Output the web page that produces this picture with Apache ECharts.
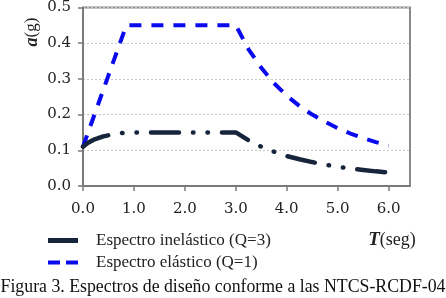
<!DOCTYPE html>
<html><head><meta charset="utf-8">
<script src="https://cdn.jsdelivr.net/npm/echarts@6/dist/echarts.min.js"></script>
<style>html,body{margin:0;padding:0;background:#fff}#c{width:446px;height:298px}</style>
</head><body><div id="c"></div>
<script>
// Data
var periodsElastic = [0, 0.85, 3.0, 3.25, 3.5, 3.75, 4.0, 4.25, 4.5, 4.75, 5.0, 5.25, 5.5, 5.75, 6.0];
var valuesElastic  = [0.11, 0.45, 0.45, 0.383, 0.331, 0.288, 0.253, 0.224, 0.200, 0.180, 0.162, 0.147, 0.134, 0.123, 0.113];
var periodsInelastic = [0, 0.1, 0.2, 0.4, 0.6, 0.85, 3.0, 3.25, 3.5, 3.75, 4.0, 4.25, 4.5, 4.75, 5.0, 5.25, 5.5, 5.75, 6.0];
var valuesInelastic  = [0.11, 0.121, 0.129, 0.139, 0.145, 0.15, 0.15, 0.128, 0.110, 0.096, 0.084, 0.075, 0.067, 0.060, 0.054, 0.049, 0.045, 0.041, 0.038];
var xTicks = [0, 1, 2, 3, 4, 5, 6];
var seriesNames = ['Espectro inelástico (Q=3)', 'Espectro elástico (Q=1)'];
var caption = 'Figura 3. Espectros de diseño conforme a las NTCS-RCDF-04';

function pairs(xs, ys){ return xs.map(function(x,i){ return [x, ys[i]]; }); }

var serif = 'Liberation Serif';
var tickFont = 'DejaVu Serif';
var dark = '#16253b', blue = '#0a0aee';
var chart = echarts.init(document.getElementById('c'), null, {renderer:'canvas'});
chart.setOption({
  animation: false,
  backgroundColor: '#fff',
  grid: {left: 83, right: 36, top: 6, bottom: 112, show: true, borderColor: '#8a8a8a', borderWidth: 2},
  xAxis: {
    type: 'value', min: 0, max: 6.42, interval: 1,
    axisLine: {show: true, onZero: false, lineStyle: {color: '#7a7a7a', width: 2}},
    axisTick: {show: true, length: 5, customValues: xTicks, lineStyle: {color: '#7a7a7a', width: 1.5}},
    axisLabel: {customValues: xTicks, margin: 16, fontFamily: tickFont, fontSize: 15, color: '#222',
      formatter: function(v){ return v.toFixed(1); }},
    splitLine: {show: false}
  },
  yAxis: {
    type: 'value', min: 0, max: 0.5, interval: 0.1,
    axisLine: {show: true, lineStyle: {color: '#7a7a7a', width: 2}},
    axisTick: {show: true, length: 5, lineStyle: {color: '#7a7a7a', width: 1.5}},
    axisLabel: {margin: 12, fontFamily: tickFont, fontSize: 15, color: '#222',
      formatter: function(v){ return v.toFixed(1); }},
    splitLine: {show: true, lineStyle: {color: '#c8c8c8', type: [2, 2], width: 1}}
  },
  legend: {
    orient: 'vertical', left: 48, top: 232, padding: 0, itemWidth: 30, itemHeight: 14, itemGap: 5,
    textStyle: {fontFamily: serif, fontSize: 17, color: '#222', padding: [0, 0, 0, 13]},
    data: [
      {name: seriesNames[0], icon: 'path://M0,0 L30,0 L30,5 L0,5 Z', itemStyle: {color: dark}},
      {name: seriesNames[1], icon: 'path://M0,0 L12,0 L12,4 L0,4 Z M18,0 L30,0 L30,4 L18,4 Z', itemStyle: {color: blue}}
    ]
  },
  series: [
    {name: seriesNames[0], type: 'line', symbol: 'none', data: pairs(periodsInelastic, valuesInelastic),
      lineStyle: {color: dark, width: 4.5, type: [28, 14, 0.5, 14, 0.5, 14], cap: 'round'}, itemStyle: {color: dark}, z: 3},
    {name: seriesNames[1], type: 'line', symbol: 'none', data: pairs(periodsElastic, valuesElastic),
      lineStyle: {color: blue, width: 4, type: [12, 10]}, itemStyle: {color: blue}, z: 2}
  ],
  graphic: [
    {type: 'text', x: 32, y: 32, rotation: Math.PI/2,
      style: {text: '{b|a}(g)', fontFamily: serif, fontSize: 17, fill: '#222', align: 'center', verticalAlign: 'middle',
        rich: {b: {fontFamily: serif, fontSize: 18, fontWeight: 'bold', fontStyle: 'italic', fill: '#222'}}}},
    {type: 'text', x: 392, y: 240,
      style: {text: '{b|T}(seg)', fontFamily: serif, fontSize: 18, fill: '#222', align: 'center', verticalAlign: 'middle',
        rich: {b: {fontFamily: serif, fontSize: 19, fontWeight: 'bold', fontStyle: 'italic', fill: '#222'}}}},
    {type: 'text', x: 223, y: 287,
      style: {text: caption, fontFamily: serif, fontSize: 17.8, fill: '#111', align: 'center', verticalAlign: 'middle'}}
  ]
});
</script></body></html>
